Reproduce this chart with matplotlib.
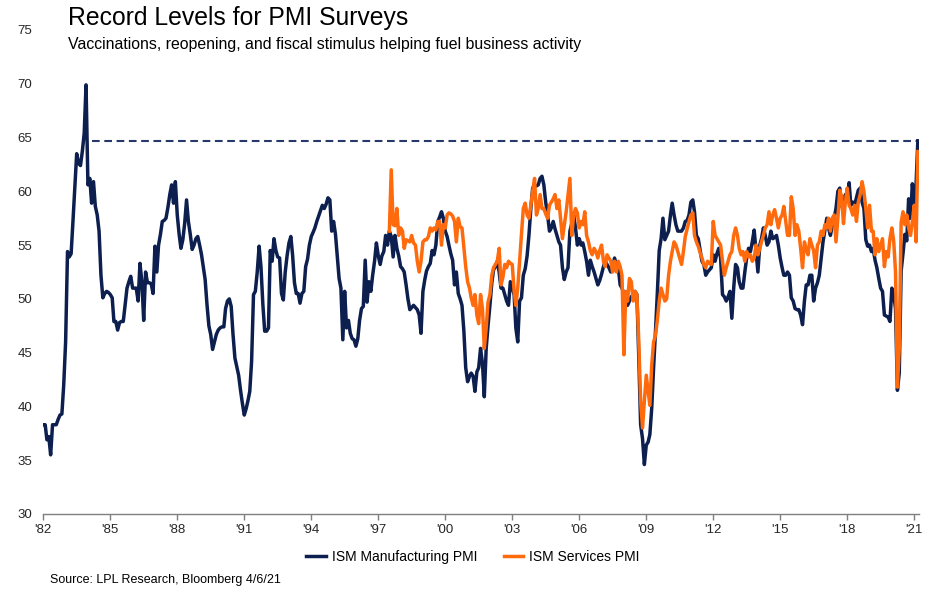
import matplotlib
matplotlib.use("Agg")
import matplotlib.pyplot as plt
import matplotlib.dates as mdates
import numpy as np
import pandas as pd

plt.rcParams['font.family'] = ['Liberation Sans', 'DejaVu Sans']

# ---------------- data (monthly values) ----------------
# ISM Manufacturing PMI, Jan 1982 - Mar 2021
mfg_1980s = [
    [38.3, 38.3, 36.9, 37.2, 35.5, 38.3, 38.3, 38.3, 38.8, 39.2, 39.3, 42.0],  # 1982
    [46.0, 54.4, 53.9, 54.2, 57.2, 60.5, 63.5, 62.6, 62.4, 63.7, 65.4, 69.9],  # 1983
    [60.6, 61.2, 58.9, 60.9, 58.6, 57.8, 56.3, 52.2, 50.1, 50.5, 50.7, 50.6],  # 1984
    [50.4, 50.1, 47.9, 47.9, 47.1, 47.8, 47.9, 47.9, 49.5, 51.0, 51.6, 52.1],  # 1985
    [51.0, 51.0, 51.0, 49.8, 53.3, 51.6, 48.0, 52.5, 51.5, 51.5, 51.4, 50.5],  # 1986
    [54.9, 52.5, 55.0, 56.0, 57.2, 57.3, 57.5, 58.5, 59.7, 60.6, 58.9, 60.9],  # 1987
    [57.8, 56.0, 54.7, 55.5, 57.0, 59.2, 57.2, 56.0, 54.6, 55.0, 55.6, 55.8],  # 1988
    [55.0, 54.1, 53.0, 51.8, 49.5, 47.5, 46.7, 45.3, 46.0, 46.7, 47.1, 47.3],  # 1989
]
mfg_1990s = [
    [47.4, 47.4, 49.1, 49.8, 50.0, 49.3, 46.7, 44.5, 43.7, 42.9, 41.5, 40.3],  # 1990
    [39.2, 39.8, 40.5, 41.4, 44.2, 50.4, 50.7, 52.5, 54.9, 53.0, 49.5, 47.0],  # 1991
    [47.0, 47.3, 54.5, 53.5, 55.6, 54.5, 53.9, 53.8, 50.5, 49.9, 52.5, 54.0],  # 1992
    [55.2, 55.8, 54.1, 51.5, 50.5, 50.5, 49.6, 50.5, 50.7, 53.0, 53.7, 55.0],  # 1993
    [55.8, 56.2, 56.6, 57.2, 57.7, 58.2, 58.7, 58.4, 58.8, 59.4, 59.2, 56.3],  # 1994
    [57.2, 56.0, 54.0, 51.9, 51.0, 46.2, 50.7, 47.3, 48.0, 46.8, 46.3, 46.2],  # 1995
    [45.6, 46.3, 48.0, 49.1, 49.3, 53.6, 49.7, 51.6, 50.7, 52.2, 53.5, 55.2],  # 1996
    [54.0, 53.2, 54.0, 54.4, 55.9, 55.0, 56.3, 55.8, 53.9, 55.9, 54.7, 54.0],  # 1997
    [53.0, 52.8, 52.5, 51.3, 50.0, 49.0, 49.2, 49.4, 49.2, 49.0, 48.5, 46.8],  # 1998
    [50.7, 51.8, 52.6, 53.0, 53.3, 54.5, 54.1, 55.0, 57.2, 57.6, 58.1, 57.5],  # 1999
]
mfg_2000s = [
    [56.3, 55.8, 55.0, 54.2, 53.6, 51.3, 52.5, 50.5, 50.0, 49.4, 47.0, 43.6],  # 2000
    [42.3, 42.8, 43.1, 42.8, 41.4, 43.2, 43.6, 45.4, 44.0, 40.9, 45.4, 47.5],  # 2001
    [49.4, 51.5, 52.7, 53.0, 53.5, 52.5, 51.0, 51.0, 50.4, 49.8, 49.4, 51.6],  # 2002
    [51.0, 50.4, 47.3, 46.0, 49.8, 50.1, 52.2, 52.8, 54.0, 55.9, 58.4, 60.3],  # 2003
    [60.6, 60.5, 60.6, 61.2, 61.4, 60.6, 59.0, 57.8, 56.3, 56.6, 57.2, 56.5],  # 2004
    [55.9, 55.3, 55.0, 52.9, 51.8, 52.5, 52.9, 56.3, 57.0, 57.8, 56.6, 55.0],  # 2005
    [55.6, 55.0, 55.2, 54.4, 53.5, 52.2, 53.6, 53.0, 52.5, 51.9, 51.3, 51.7],  # 2006
    [52.3, 53.0, 53.5, 53.2, 52.9, 52.5, 52.7, 53.8, 53.0, 52.9, 51.3, 51.0],  # 2007
    [50.5, 49.8, 49.4, 49.8, 50.2, 50.4, 50.7, 50.4, 44.5, 38.3, 37.0, 34.6],  # 2008
    [36.4, 36.7, 37.4, 39.9, 43.6, 47.0, 50.5, 54.5, 55.6, 57.5, 55.5, 55.9],  # 2009
]
mfg_2010s = [
    [56.3, 57.8, 58.9, 57.8, 56.9, 56.3, 56.3, 56.3, 56.6, 57.2, 57.3, 57.8],  # 2010
    [59.0, 59.2, 58.1, 55.9, 55.6, 54.5, 53.5, 53.2, 52.2, 52.5, 52.7, 52.9],  # 2011
    [54.1, 53.5, 54.2, 54.7, 53.8, 50.4, 50.2, 49.8, 50.2, 50.7, 48.2, 51.0],  # 2012
    [53.2, 52.9, 51.6, 51.0, 51.0, 52.5, 53.8, 54.7, 54.4, 55.3, 56.4, 54.5],  # 2013
    [52.5, 55.0, 55.6, 56.6, 55.9, 55.0, 55.3, 56.3, 55.6, 55.7, 55.9, 55.0],  # 2014
    [53.8, 52.9, 52.2, 52.2, 52.5, 52.2, 50.1, 49.8, 49.1, 49.0, 49.0, 48.5],  # 2015
    [47.6, 49.8, 51.3, 51.3, 52.2, 52.2, 49.8, 51.0, 51.5, 52.2, 53.8, 55.3],  # 2016
    [56.4, 57.5, 56.6, 55.9, 56.8, 57.5, 58.4, 60.0, 60.3, 58.7, 58.2, 59.7],  # 2017
    [59.1, 60.8, 58.7, 59.0, 58.7, 59.4, 60.1, 60.3, 59.0, 58.4, 55.5, 54.9],  # 2018
    [55.0, 54.4, 54.7, 53.6, 52.9, 51.9, 51.0, 50.7, 48.5, 48.4, 48.3, 47.9],  # 2019
]
mfg_2020s = [
    [51.0, 50.4, 49.1, 41.5, 43.1, 52.6, 54.2, 56.0, 55.4, 59.3, 57.5, 60.7],  # 2020
    [58.7, 60.8, 64.7],                                                      # 2021
]

# ISM Services PMI, Jul 1997 - Mar 2021
svc_1990s = [
    [56.3, 62.0, 56.9, 56.8, 58.4, 55.9],                                    # 1997 (Jul-Dec)
    [56.6, 56.3, 54.7, 55.5, 55.4, 55.3, 55.9, 55.2, 55.0, 53.5, 52.5, 53.5],  # 1998
    [55.3, 55.5, 55.5, 55.8, 56.6, 56.3, 56.6, 56.4, 57.2, 57.2, 55.0, 56.9],  # 1999
]
svc_2000s = [
    [56.6, 57.8, 58.0, 57.9, 57.7, 57.2, 55.3, 57.5, 56.7, 56.6, 54.8, 53.0],  # 2000
    [51.6, 51.0, 50.1, 49.4, 50.4, 48.5, 47.7, 50.4, 49.1, 45.4, 47.3, 49.7],  # 2001
    [50.4, 52.2, 52.9, 53.2, 53.5, 54.7, 51.3, 52.0, 53.2, 52.9, 53.5, 53.3],  # 2002
    [53.2, 50.7, 49.4, 51.0, 53.5, 56.0, 58.4, 58.9, 57.8, 57.5, 58.7, 60.0],  # 2003
    [61.2, 57.8, 58.4, 59.7, 58.4, 58.4, 57.9, 57.5, 58.7, 59.0, 59.3, 59.7],  # 2004
    [58.4, 59.2, 57.5, 55.6, 56.8, 58.1, 59.6, 61.2, 55.9, 57.8, 58.4, 58.0],  # 2005
    [56.6, 57.2, 56.9, 58.1, 55.9, 55.3, 54.5, 54.1, 54.7, 54.4, 53.8, 54.5],  # 2006
    [55.0, 53.5, 53.0, 54.1, 53.8, 53.5, 52.5, 53.5, 52.5, 53.5, 53.0, 52.2],  # 2007
    [44.8, 50.7, 49.8, 51.9, 51.6, 49.8, 50.7, 50.4, 46.0, 40.5, 38.0, 40.5],  # 2008
    [42.9, 41.4, 40.1, 43.9, 46.0, 46.6, 48.0, 49.8, 51.0, 50.4, 49.8, 50.0],  # 2009
]
svc_2010s = [
    [52.2, 53.5, 54.4, 55.3, 55.0, 54.4, 53.8, 53.2, 54.4, 55.8, 56.5, 57.2],  # 2010
    [57.8, 58.0, 55.9, 55.3, 54.9, 54.3, 53.8, 53.2, 52.9, 53.5, 53.3, 53.2],  # 2011
    [57.2, 55.9, 55.6, 55.3, 55.0, 53.5, 52.2, 52.9, 53.5, 54.1, 54.4, 55.9],  # 2012
    [56.6, 55.9, 54.7, 54.1, 54.4, 53.5, 54.4, 53.9, 54.1, 53.5, 53.8, 55.0],  # 2013
    [54.1, 54.7, 55.3, 55.9, 56.6, 56.9, 58.1, 56.9, 57.8, 58.3, 57.5, 56.6],  # 2014
    [57.5, 57.8, 58.6, 57.2, 55.9, 55.9, 59.5, 58.4, 55.9, 56.9, 56.3, 54.7],  # 2015
    [52.9, 55.3, 54.6, 54.1, 55.6, 55.0, 54.5, 52.9, 55.0, 55.3, 56.3, 55.9],  # 2016
    [56.9, 56.6, 57.5, 56.3, 57.5, 57.8, 55.3, 57.5, 60.1, 59.5, 57.0, 59.0],  # 2017
    [60.3, 58.7, 58.4, 57.8, 58.7, 57.2, 59.0, 59.7, 60.9, 60.0, 58.4, 56.6],  # 2018
    [58.7, 56.3, 56.3, 54.1, 55.6, 54.4, 55.0, 55.6, 53.0, 54.4, 53.9, 55.6],  # 2019
]
svc_2020s = [
    [56.6, 55.3, 52.5, 41.8, 45.4, 57.1, 58.1, 56.9, 57.8, 56.6, 55.9, 57.2],  # 2020
    [58.7, 55.3, 63.7],                                                      # 2021
]

mfg_start = "1982-01-01"
svc_start = "1997-07-01"
record_level = 64.7
record_line_start = "1984-03-01"

series_labels = ["ISM Manufacturing PMI", "ISM Services PMI"]
x_tick_years = list(range(1982, 2022, 3))
y_ticks = list(range(30, 80, 5))

title = "Record Levels for PMI Surveys"
subtitle = "Vaccinations, reopening, and fiscal stimulus helping fuel business activity"
source = "Source: LPL Research, Bloomberg 4/6/21"

# ---------------- build series ----------------
def flatten(*blocks):
    return np.array([v for block in blocks for year in block for v in year])

mfg = flatten(mfg_1980s, mfg_1990s, mfg_2000s, mfg_2010s, mfg_2020s)
svc = flatten(svc_1990s, svc_2000s, svc_2010s, svc_2020s)
mfg_dates = pd.date_range(mfg_start, periods=len(mfg), freq="MS")
svc_dates = pd.date_range(svc_start, periods=len(svc), freq="MS")

NAVY = "#0c1f4f"
ORANGE = "#ff6a0d"
DASH = "#27396b"

W, H = 946, 598
fig = plt.figure(figsize=(W / 100, H / 100), dpi=100)
left, right, top, bottom = 43.3, 919, 30, 514
ax = fig.add_axes([left / W, 1 - bottom / H, (right - left) / W, (bottom - top) / H])

ax.plot([pd.Timestamp(record_line_start), mfg_dates[-1]], [record_level, record_level],
        color=DASH, lw=1.5, dashes=(3.7, 2.2), zorder=2)
ax.plot(mfg_dates, mfg, color=NAVY, lw=2.5, solid_joinstyle="round", zorder=3,
        label=series_labels[0])
ax.plot(svc_dates, svc, color=ORANGE, lw=2.5, solid_joinstyle="round", zorder=4,
        label=series_labels[1])

ax.set_ylim(30, 75)
ax.set_yticks(y_ticks)
ax.set_xlim(pd.Timestamp("1982-01-01"), pd.Timestamp("2021-03-20"))
ax.set_xticks([pd.Timestamp(f"{y}-01-01") for y in x_tick_years])
ax.xaxis.set_major_formatter(mdates.DateFormatter("'%y"))

for s in ("top", "right", "left"):
    ax.spines[s].set_visible(False)
ax.spines["bottom"].set_color("#7f7f7f")
ax.spines["bottom"].set_linewidth(1.0)

ax.tick_params(axis="y", length=0, pad=8, labelsize=9.5, labelcolor="#262626")
ax.tick_params(axis="x", length=4, width=1, direction="out", color="#7f7f7f",
               pad=3, labelsize=9.5, labelcolor="#262626")

fig.legend(loc="center", bbox_to_anchor=(473 / W, 1 - 557 / H), ncol=2, frameon=False,
           fontsize=10, handlelength=1.4, handletextpad=0.45, columnspacing=1.9)

fig.text(68 / W, 1 - 18 / H, title, fontsize=17.8, va="center", ha="left", color="#000000")
fig.text(68 / W, 1 - 45 / H, subtitle, fontsize=11.4, va="center", ha="left", color="#000000")
fig.text(50 / W, 1 - 580 / H, source, fontsize=9, va="center", ha="left", color="#000000")

fig.savefig("out.png", dpi=100)
